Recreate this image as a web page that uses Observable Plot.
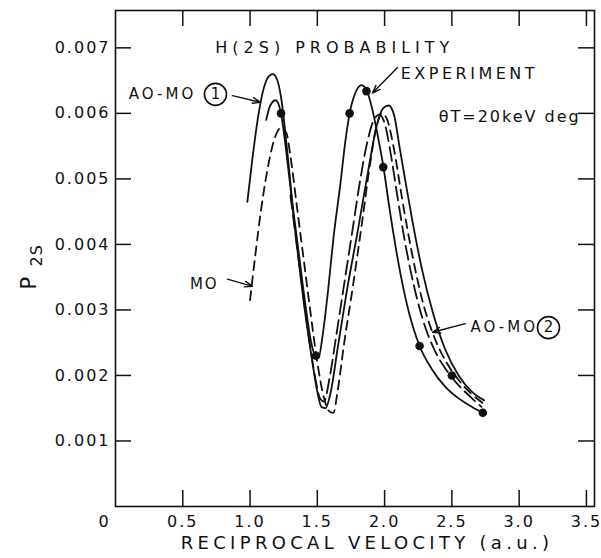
<!DOCTYPE html>
<html><head><meta charset="utf-8">
<script src="https://cdn.jsdelivr.net/npm/d3@7"></script>
<script src="https://cdn.jsdelivr.net/npm/@observablehq/plot@0.6"></script>
<style>
body{margin:0;background:#fff;}
#chart svg{display:block;}
</style></head><body><div id="chart"></div>
<script>
// ---- data ----
const xTicks = [0.5, 1.0, 1.5, 2.0, 2.5, 3.0, 3.5];
const yTicks = [0.001, 0.002, 0.003, 0.004, 0.005, 0.006, 0.007];

// AO-MO (1): solid
const aoMo1X = [0.98,1.02,1.06,1.10,1.14,1.17,1.20,1.23,1.26,1.29,1.32,1.36,1.41,1.46,1.50,1.53,1.56,1.60,1.65,1.72,1.80,1.88,1.94,1.99,2.03,2.07,2.11,2.16,2.21,2.28,2.36,2.45,2.55,2.65,2.74];
const aoMo1Y = [0.00465,0.00535,0.00595,0.00637,0.00657,0.00660,0.00652,0.00625,0.00575,0.00515,0.00450,0.00378,0.00295,0.00225,0.00175,0.00152,0.00150,0.00175,0.00240,0.00330,0.00420,0.00515,0.00580,0.00608,0.00612,0.00598,0.00550,0.00490,0.00432,0.00360,0.00295,0.00240,0.00200,0.00175,0.00162];

// Experiment: solid curve through the data
const expX = [1.12,1.15,1.19,1.23,1.27,1.31,1.36,1.41,1.45,1.48,1.51,1.54,1.58,1.62,1.67,1.71,1.74,1.78,1.83,1.87,1.91,1.95,1.99,2.04,2.10,2.17,2.26,2.35,2.45,2.55,2.65,2.73];
const expY = [0.00590,0.00612,0.00620,0.00600,0.00540,0.00470,0.00390,0.00310,0.00255,0.00232,0.00228,0.00262,0.00330,0.00410,0.00490,0.00560,0.00600,0.00630,0.00643,0.00633,0.00605,0.00565,0.00520,0.00450,0.00375,0.00305,0.00245,0.00210,0.00183,0.00165,0.00152,0.00143];

// AO-MO (2): long dashes
const aoMo2X = [1.30,1.35,1.40,1.45,1.49,1.52,1.55,1.59,1.64,1.70,1.76,1.82,1.87,1.92,1.96,2.00,2.04,2.09,2.15,2.22,2.30,2.38,2.46,2.55,2.64,2.72];
const aoMo2Y = [0.00475,0.00395,0.00315,0.00240,0.00190,0.00165,0.00160,0.00195,0.00260,0.00340,0.00420,0.00500,0.00555,0.00590,0.00598,0.00585,0.00545,0.00480,0.00405,0.00335,0.00275,0.00235,0.00208,0.00185,0.00167,0.00152];

// MO: short dashes
const moX = [1.00,1.04,1.08,1.13,1.18,1.23,1.27,1.30,1.35,1.40,1.45,1.50,1.55,1.59,1.62,1.65,1.70,1.76,1.83,1.89,1.94,1.98,2.02,2.07,2.13,2.20,2.28,2.37,2.46,2.55,2.64,2.73];
const moY = [0.00315,0.00385,0.00450,0.00515,0.00560,0.00578,0.00570,0.00535,0.00455,0.00375,0.00295,0.00220,0.00165,0.00145,0.00143,0.00175,0.00250,0.00330,0.00430,0.00520,0.00580,0.00600,0.00590,0.00545,0.00470,0.00390,0.00315,0.00258,0.00220,0.00193,0.00173,0.00158];

// Experimental points
const dotX = [1.23, 1.49, 1.74, 1.865, 1.99, 2.26, 2.50, 2.73];
const dotY = [0.00600, 0.00230, 0.00600, 0.00634, 0.00518, 0.00245, 0.00200, 0.00143];

// Labels and arrows (data coordinates)
const arrowX1 = [0.87, 2.096, 0.832, 2.60];
const arrowY1 = [0.00627, 0.00670, 0.00347, 0.00279];
const arrowX2 = [1.078, 1.91, 1.018, 2.356];
const arrowY2 = [0.00617, 0.00631, 0.00336, 0.00266];

const circleX = [0.743, 3.218];
const circleY = [0.00629, 0.00273];
const circleText = ["1", "2"];

// ---- layout ----
const W = 601, H = 558, mL = 115, mR = 7, mT = 10, mB = 52;
const plotW = W - mL - mR, plotH = H - mT - mB, tickLen = 16;
const ink = "#111";
const pts = (xs, ys) => xs.map((x, i) => ({x, y: ys[i]}));

const lineOpts = {x: "x", y: "y", stroke: ink, strokeWidth: 1.8, curve: "monotone-x"};

const chart = Plot.plot({
  width: W, height: H,
  marginLeft: mL, marginRight: mR, marginTop: mT, marginBottom: mB,
  style: {fontFamily: "DejaVu Sans", fontSize: "16px", color: ink, background: "#fff"},
  x: {domain: [0, 3.56], axis: null},
  y: {domain: [0, 0.00757], axis: null},
  marks: [
    Plot.frame({stroke: ink, strokeWidth: 1.6}),
    Plot.tickX(xTicks, {x: d => d, insetTop: plotH - tickLen, stroke: ink, strokeWidth: 1.5}),
    Plot.tickX(xTicks, {x: d => d, insetBottom: plotH - tickLen, stroke: ink, strokeWidth: 1.5}),
    Plot.tickY(yTicks, {y: d => d, insetRight: plotW - tickLen, stroke: ink, strokeWidth: 1.5}),
    Plot.tickY(yTicks, {y: d => d, insetLeft: plotW - tickLen, stroke: ink, strokeWidth: 1.5}),
    Plot.axisX(xTicks, {tickSize: 0, tickPadding: 9, tickFormat: d3.format(".1f"), label: null, fontSize: 16}),
    Plot.axisY(yTicks, {tickSize: 0, tickPadding: 5, tickFormat: d3.format(".3f"), label: null, fontSize: 16}),
    Plot.text(["0"], {x: () => 0, y: () => 0, text: d => d, dx: -12, dy: 15, fontSize: 16}),

    Plot.line(pts(aoMo1X, aoMo1Y), lineOpts),
    Plot.line(pts(expX, expY), lineOpts),
    Plot.line(pts(aoMo2X, aoMo2Y), {...lineOpts, strokeDasharray: "14,6"}),
    Plot.line(pts(moX, moY), {...lineOpts, strokeDasharray: "9,6"}),
    Plot.dot(pts(dotX, dotY), {x: "x", y: "y", r: 4.3, fill: ink}),

    Plot.arrow(arrowX1.map((d, i) => i), {
      x1: i => arrowX1[i], y1: i => arrowY1[i], x2: i => arrowX2[i], y2: i => arrowY2[i],
      stroke: ink, strokeWidth: 1.4, headLength: 9, headAngle: 40
    }),
    Plot.dot(circleText, {x: (d, i) => circleX[i], y: (d, i) => circleY[i], r: 11, stroke: ink, strokeWidth: 1.6, fill: "none"}),
    Plot.text(circleText, {x: (d, i) => circleX[i], y: (d, i) => circleY[i], text: d => d, fontSize: 15}),

    Plot.text(["H(2S) PROBABILITY"], {x: () => 1.63, y: () => 0.00700, text: d => d, fontSize: 16}),
    Plot.text(["EXPERIMENT"], {x: () => 2.63, y: () => 0.00661, text: d => d, fontSize: 16}),
    Plot.text(["\u03B8T=20keV deg"], {x: () => 2.93, y: () => 0.00594, text: d => d, fontSize: 16}),
    Plot.text(["AO-MO"], {x: () => 0.60, y: () => 0.00629, text: d => d, textAnchor: "end", fontSize: 15}),
    Plot.text(["MO"], {x: () => 0.66, y: () => 0.00340, text: d => d, fontSize: 15}),
    Plot.text(["AO-MO"], {x: () => 3.14, y: () => 0.00273, text: d => d, textAnchor: "end", fontSize: 15}),

    Plot.text(["RECIPROCAL VELOCITY (a.u.)"], {frameAnchor: "bottom", text: d => d, dx: 12, dy: 42, fontSize: 18}),
    Plot.text(["P"], {frameAnchor: "left", text: d => d, dx: -86, dy: 31, rotate: -90, fontSize: 21}),
    Plot.text(["2S"], {frameAnchor: "left", text: d => d, dx: -79, dy: 8, rotate: -90, fontSize: 16})
  ]
});

document.getElementById("chart").appendChild(chart);
// letter spacing to match the wide lettering of the original
const spacing = {
  "H(2S) PROBABILITY": "5px",
  "EXPERIMENT": "3.5px",
  "\u03B8T=20keV deg": "2px",
  "AO-MO": "3px",
  "MO": "2px",
  "RECIPROCAL VELOCITY (a.u.)": "4.3px",
  "2S": "1px"
};
d3.select(chart).selectAll("text").each(function () {
  const t = this.textContent;
  if (spacing[t]) this.style.letterSpacing = spacing[t];
  else if (/^[0-9.]+$/.test(t) && t.length > 1) this.style.letterSpacing = "2px";
});
</script>
</body></html>
